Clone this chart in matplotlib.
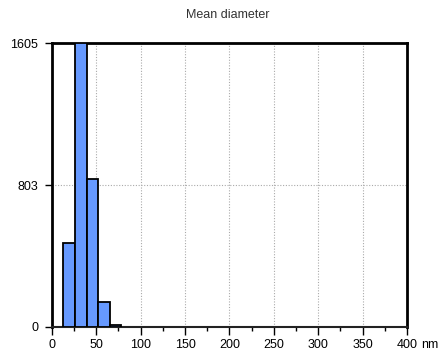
import numpy as np
import matplotlib
matplotlib.use("Agg")
import matplotlib.pyplot as plt
from matplotlib.ticker import MultipleLocator

plt.rcParams['font.family'] = ['Liberation Sans', 'DejaVu Sans']

# Size distribution (nm bins, particle counts)
bin_left = [13, 26, 39, 52, 65]
bin_width = 13
counts = [475, 1605, 840, 143, 10]

x_ticks = [0, 50, 100, 150, 200, 250, 300, 350, 400]
y_ticks = [0, 803, 1605]

fig = plt.figure(figsize=(4.4, 3.58), dpi=100)
ax = fig.add_axes([0.118, 0.0866, 0.807, 0.7919])

ax.bar(bin_left, counts, width=bin_width, align='edge',
       color='#6699FF', edgecolor='black', linewidth=1.3, zorder=3)

ax.set_xlim(0, 400)
ax.set_ylim(0, 1605)

ax.set_xticks(x_ticks)
ax.set_xticklabels([str(v) for v in x_ticks])
ax.xaxis.set_minor_locator(MultipleLocator(25))
ax.set_yticks(y_ticks)
ax.set_yticklabels([str(v) for v in y_ticks])

ax.tick_params(axis='x', which='major', length=6, width=1, direction='out',
               labelsize=9, pad=3)
ax.tick_params(axis='x', which='minor', length=3, width=1, direction='out')
ax.tick_params(axis='y', which='major', length=5, width=1, direction='out',
               labelsize=9, pad=5)

# dotted reference grid
ax.grid(True, which='major', color='#aaaaaa', linestyle=(0, (1, 1.5)),
        linewidth=0.8, zorder=0)

for side in ['top', 'right', 'left']:
    ax.spines[side].set_linewidth(2)
    ax.spines[side].set_color('black')
ax.spines['bottom'].set_linewidth(1.5)
ax.spines['bottom'].set_color('#222222')

# unit next to the last tick label
ax.annotate('nm', xy=(400, 0), xycoords=('data', 'axes fraction'),
            xytext=(10.5, -9), textcoords='offset points',
            ha='left', va='top', fontsize=9)

fig.text(0.518, 1 - 18.5 / 358, 'Mean diameter', ha='center', va='baseline',
         fontsize=9, color='#333333')

fig.savefig('out.png', dpi=100)
